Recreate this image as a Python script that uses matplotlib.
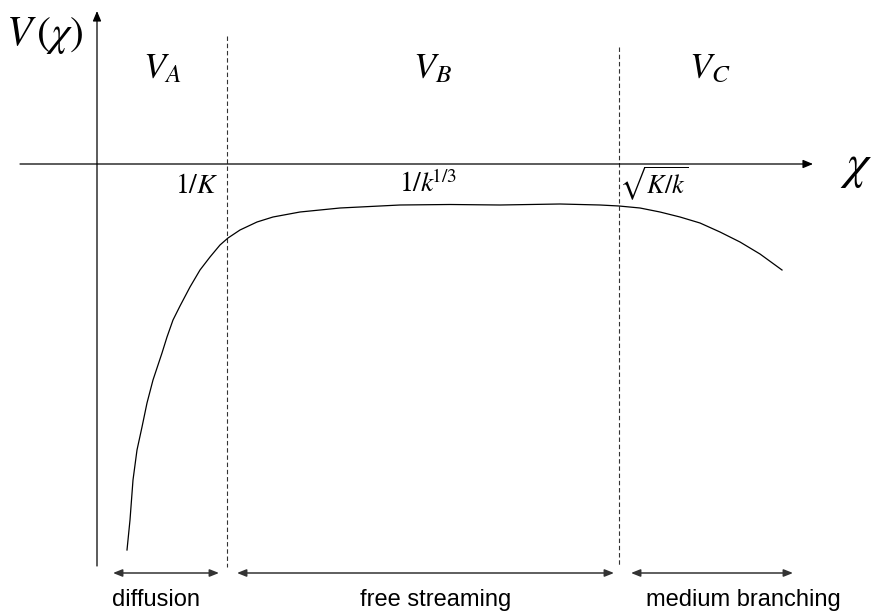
import matplotlib
matplotlib.use("Agg")
import matplotlib.pyplot as plt

plt.rcParams['mathtext.fontset'] = 'stix'

# Sketch of V(chi), in pixel coordinates of the original drawing
curve_x = [127, 130, 133, 137, 142, 147, 153, 158, 162, 167, 173, 180, 190, 200, 210,
           220, 228, 240, 257, 273, 300, 340, 400, 450, 500, 560, 600, 619, 640,
           660, 680, 700, 720, 740, 760, 782]
curve_y = [550, 520, 480, 450, 427, 403, 380, 365, 353, 337, 320, 306, 287, 270, 257,
           245, 238, 230, 222, 217, 212, 208, 205, 204.5, 205, 204, 205, 206, 208,
           212, 217, 223, 232, 242, 254, 270]

# region boundaries (dashed lines)
bound_x = [227, 619]
bound_top = [36, 47]
bound_labels = [r'$1/K$', r'$\sqrt{K/k}$']
mid_label = r'$1/k^{\!\!1/3}$'

region_names = [r'$V_A$', r'$V_B$', r'$V_C$']
region_name_x = [162, 432, 710]

# bottom arrows and captions
span_start = [113, 237, 631]
span_end = [219, 614, 793]
span_text = ['diffusion', 'free streaming', 'medium branching']
span_text_x = [156, 436, 743]

fig = plt.figure(figsize=(8.72, 6.13), dpi=100)
ax = fig.add_axes([0, 0, 1, 1])
ax.set_xlim(0, 872)
ax.set_ylim(613, 0)
ax.axis('off')

# axes with arrow heads
ax.annotate('', xy=(97, 11), xytext=(97, 566),
            arrowprops=dict(arrowstyle='-|>,head_length=0.6,head_width=0.25',
                            color='black', lw=0.9, shrinkA=0, shrinkB=0))
ax.annotate('', xy=(813, 164), xytext=(20, 164),
            arrowprops=dict(arrowstyle='-|>,head_length=0.6,head_width=0.25',
                            color='black', lw=0.9, shrinkA=0, shrinkB=0))

# dashed region boundaries
for bx, bt in zip(bound_x, bound_top):
    ax.plot([bx, bx], [bt, 567], color='#333333', lw=0.8, ls=(0, (4, 2.5)))

# the curve
ax.plot(curve_x, curve_y, color='black', lw=0.9)

# labels
ax.text(45, 35, r'$V\,(\chi)$', fontsize=30, ha='center', va='center')
ax.text(856, 166, r'$\chi$', fontsize=36, ha='center', va='center')
for nx, name in zip(region_name_x, region_names):
    ax.text(nx, 68, name, fontsize=26, ha='center', va='center')
ax.text(197, 185, bound_labels[0], fontsize=20, ha='center', va='center')
ax.text(654, 184, bound_labels[1], fontsize=19, ha='center', va='center')
ax.text(428, 184, mid_label, fontsize=20, ha='center', va='center')

for s, e in zip(span_start, span_end):
    ax.annotate('', xy=(e, 573), xytext=(s, 573),
                arrowprops=dict(arrowstyle='<|-|>,head_length=0.55,head_width=0.22',
                                color='#333333', lw=1.1, shrinkA=0, shrinkB=0))
for tx, t in zip(span_text_x, span_text):
    ax.text(tx, 600, t, fontsize=17, family='Liberation Sans',
            ha='center', va='center')

fig.savefig('out.png', dpi=100)
